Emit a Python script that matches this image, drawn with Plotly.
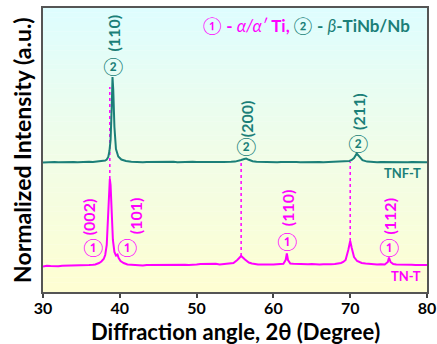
import plotly.graph_objects as go

# ---------------- data (intensity in arbitrary normalized units) ----------------
tn_x = [30.0, 30.5, 31.0, 31.5, 32.0, 32.5, 33.0, 33.5, 34.0, 34.5, 35.0, 35.5, 36.0, 36.5,
        36.8, 37.3, 37.6, 37.9, 38.1, 38.3, 38.45, 38.6, 38.7, 38.8, 38.95, 39.1, 39.3, 39.5,
        39.7, 39.85, 40.1, 40.5, 41.0, 41.5, 42.0, 42.5, 43.0, 43.5, 44.0, 44.5, 45.0, 45.5,
        46.0, 46.5, 47.0, 47.5, 48.0, 48.5, 49.0, 49.5, 50.0, 50.5, 51.0, 51.5, 52.0, 52.5,
        53.0, 53.5, 54.0, 54.4, 54.8, 55.3, 55.8, 56.3, 56.8, 57.2, 57.5, 58.0, 58.5, 59.0,
        59.5, 60.0, 60.5, 61.0, 61.3, 61.6, 61.75, 61.9, 62.2, 62.6, 63.0, 63.5, 64.0, 64.5,
        65.0, 65.5, 66.0, 66.5, 67.0, 67.5, 68.0, 68.5, 68.8, 69.1, 69.4, 69.75, 70.0, 70.2,
        70.5, 70.9, 71.5, 72.0, 72.5, 73.0, 73.5, 74.0, 74.5, 74.9, 75.05, 75.25, 75.6, 76.0,
        76.5, 77.0, 77.5, 78.0, 78.5, 79.0, 79.5, 80.0]
tn_y = [25.5, 26.2, 26.0, 25.6, 25.8, 26.3, 26.4, 25.9, 26.2, 26.6, 26.4, 27.0, 27.0, 27.3,
        27.6, 29.0, 30.5, 33.0, 37.0, 47.0, 67.0, 97.0, 113.0, 107.0, 77.0, 52.0, 40.0, 36.5,
        37.5, 34.0, 31.0, 29.0, 27.6, 27.2, 27.0, 26.8, 26.5, 26.9, 27.0, 26.6, 26.7, 27.1,
        27.0, 26.8, 27.2, 27.0, 27.5, 27.2, 27.0, 27.6, 27.5, 27.9, 28.0, 27.7, 28.0, 28.2,
        27.6, 28.0, 28.0, 28.3, 29.0, 32.0, 36.0, 32.5, 29.5, 28.6, 28.0, 27.6, 27.5, 27.8,
        27.5, 27.4, 27.6, 27.7, 28.2, 32.0, 38.5, 32.0, 28.5, 28.2, 28.0, 27.6, 27.5, 27.8,
        28.0, 27.6, 27.5, 27.8, 27.5, 27.7, 28.0, 28.4, 29.0, 30.0, 32.0, 42.0, 51.0, 44.0,
        35.0, 31.0, 29.0, 28.4, 28.0, 27.6, 27.5, 27.8, 27.5, 30.0, 34.5, 30.0, 28.0, 27.4,
        27.5, 27.0, 27.0, 27.3, 27.0, 26.8, 27.0, 27.0]

tnf_x = [30.0, 30.5, 31.0, 31.5, 32.0, 32.5, 33.0, 33.5, 34.0, 34.5, 35.0, 35.5, 36.0, 36.5,
         37.0, 37.4, 37.8, 38.1, 38.3, 38.5, 38.65, 38.8, 38.95, 39.05, 39.15, 39.3, 39.5,
         39.8, 40.2, 40.8, 41.5, 42.0, 42.5, 43.0, 43.5, 44.0, 44.5, 45.0, 45.5, 46.0, 46.5,
         47.0, 47.5, 48.0, 48.5, 49.0, 49.5, 50.0, 50.5, 51.0, 51.5, 52.0, 52.5, 53.0, 53.5,
         54.0, 54.5, 55.0, 55.4, 55.8, 56.2, 56.45, 56.8, 57.3, 57.8, 58.3, 59.0, 59.5, 60.0,
         60.5, 61.0, 61.5, 62.0, 62.5, 63.0, 63.5, 64.0, 64.5, 65.0, 65.5, 66.0, 66.5, 67.0,
         67.5, 68.0, 68.5, 69.0, 69.5, 69.9, 70.2, 70.5, 70.85, 71.2, 71.6, 72.2, 72.8, 73.5,
         74.0, 74.5, 75.0, 75.5, 76.0, 76.5, 77.0, 77.5, 78.0, 78.5, 79.0, 79.5, 80.0]
tnf_y = [129.6, 130.0, 129.7, 130.1, 129.8, 130.0, 130.2, 129.8, 130.0, 129.7, 130.1, 130.0,
         130.2, 130.0, 130.3, 130.5, 130.8, 131.5, 132.5, 135.0, 141.0, 152.0, 185.0, 215.0,
         202.0, 165.0, 143.0, 135.5, 132.5, 131.0, 130.3, 130.0, 130.2, 129.8, 130.0, 130.1,
         129.7, 130.0, 130.2, 129.9, 130.0, 130.3, 129.8, 130.0, 130.1, 129.8, 130.2, 130.0,
         129.9, 130.1, 130.0, 129.8, 130.2, 130.0, 130.1, 129.9, 130.2, 130.4, 131.0, 132.0,
         133.0, 133.5, 132.2, 130.8, 130.2, 130.0, 129.8, 130.1, 130.0, 129.7, 130.0, 130.2,
         129.9, 130.0, 130.1, 129.8, 130.0, 130.2, 129.9, 130.0, 130.1, 129.8, 130.0, 130.2,
         130.0, 130.2, 130.3, 130.5, 131.0, 132.0, 134.0, 138.5, 135.0, 131.8, 130.4, 130.0,
         129.8, 130.1, 130.0, 129.8, 130.2, 130.0, 129.9, 130.1, 129.8, 130.0, 130.1, 129.9,
         130.0, 129.8]

# dashed drop lines (x position, bottom intensity, top intensity)
drop_x = [38.7, 55.8, 70.0]
drop_y0 = [113.0, 36.0, 51.0]
drop_y1 = [205.0, 130.0, 130.0]

# peak labels
beta_x = [39.05, 56.45, 71.0]
beta_hkl = ["(110)", "(200)", "(211)"]
beta_circ_y = [226, 146, 149]
beta_lab_y = [259, 173, 181]

alpha_x = [36.5, 41.0, 61.8, 75.0]
alpha_lab_x = [35.9, 42.0, 61.8, 75.0]
alpha_hkl = ["(002)", "(101)", "(110)", "(112)"]
alpha_circ_y = [45, 45, 51, 45]
alpha_lab_y = [75, 76, 84, 76]

TEAL = "#1b7f78"
MAG = "#ff00ff"
FONT = "Lato"

fig = go.Figure()

# gradient background
c_top = (222, 253, 254)
c_mid = (240, 253, 232)
c_bot = (254, 254, 210)
N = 60
for i in range(N):
    t = i / (N - 1)
    if t < 0.5:
        a, b, u = c_top, c_mid, t / 0.5
    else:
        a, b, u = c_mid, c_bot, (t - 0.5) / 0.5
    col = tuple(int(round(a[k] + (b[k] - a[k]) * u)) for k in range(3))
    fig.add_shape(type="rect", xref="paper", yref="paper",
                  x0=0, x1=1, y0=1 - (i + 1) / N, y1=1 - i / N + 0.001,
                  fillcolor="rgb(%d,%d,%d)" % col, line_width=0, layer="below")

for xv, y0, y1 in zip(drop_x, drop_y0, drop_y1):
    fig.add_trace(go.Scatter(x=[xv, xv], y=[y0, y1], mode="lines",
                             line=dict(color=MAG, width=1.5, dash="3px,3px"),
                             hoverinfo="skip", showlegend=False))

fig.add_trace(go.Scatter(x=tnf_x, y=tnf_y, mode="lines",
                         line=dict(color=TEAL, width=2), showlegend=False))
fig.add_trace(go.Scatter(x=tn_x, y=tn_y, mode="lines",
                         line=dict(color=MAG, width=2), showlegend=False))

ann = []
for xv, cy, ly, h in zip(beta_x, beta_circ_y, beta_lab_y, beta_hkl):
    ann.append(dict(x=xv, y=cy, text="②", showarrow=False,
                    font=dict(color=TEAL, size=18, family=FONT)))
    ann.append(dict(x=xv, y=ly, text="<b>%s</b>" % h, textangle=-90, showarrow=False,
                    font=dict(color=TEAL, size=16, family=FONT)))
for xv, lx, cy, ly, h in zip(alpha_x, alpha_lab_x, alpha_circ_y, alpha_lab_y, alpha_hkl):
    ann.append(dict(x=xv, y=cy, text="①", showarrow=False,
                    font=dict(color=MAG, size=18, family=FONT)))
    ann.append(dict(x=lx, y=ly, text="<b>%s</b>" % h, textangle=-90, showarrow=False,
                    font=dict(color=MAG, size=16, family=FONT)))

ann.append(dict(xref="paper", yref="paper", x=0.962, y=0.94, xanchor="right", yanchor="middle",
                text=("<span style='color:%s'>① <b>- </b><i>α/α′</i><b> Ti, </b></span>"
                      "<span style='color:%s'>② <b>- </b><i>β</i><b>-TiNb/Nb</b></span>") % (MAG, TEAL),
                showarrow=False, font=dict(size=17, family=FONT)))
ann.append(dict(xref="paper", yref="paper", x=0.99, y=0.418, xanchor="right", yanchor="middle",
                text="<b>TNF-T</b>", showarrow=False,
                font=dict(color=TEAL, size=13, family=FONT)))
ann.append(dict(xref="paper", yref="paper", x=0.99, y=0.057, xanchor="right", yanchor="middle",
                text="<b>TN-T</b>", showarrow=False,
                font=dict(color=MAG, size=13, family=FONT)))
ann.append(dict(xref="paper", yref="paper", x=0.5, y=-0.14, xanchor="center", yanchor="middle",
                text="<b>Diffraction angle, 2θ (Degree)</b>", showarrow=False,
                font=dict(size=22, family=FONT, color="black")))
ann.append(dict(xref="paper", yref="paper", x=-0.055, y=0.5, xanchor="center", yanchor="middle",
                text="<b>Normalized Intensity (a.u.)</b>", textangle=-90, showarrow=False,
                font=dict(size=23, family=FONT, color="black")))

fig.update_layout(
    width=437, height=344,
    margin=dict(l=43, r=10, t=8, b=52),
    paper_bgcolor="white", plot_bgcolor="rgba(0,0,0,0)",
    annotations=ann,
    font=dict(family=FONT, color="black"),
    xaxis=dict(range=[30, 80], tickvals=[30, 40, 50, 60, 70, 80],
               ticktext=["<b>%d</b>" % v for v in [30, 40, 50, 60, 70, 80]],
               ticks="outside", ticklen=4, tickwidth=1.5, tickcolor="#444",
               ticklabelstandoff=-3,
               showline=True, linecolor="#555", linewidth=1.5, mirror=True,
               showgrid=False, zeroline=False, automargin=False,
               tickfont=dict(size=16, family=FONT, color="black")),
    yaxis=dict(range=[0, 284], showticklabels=False, ticks="",
               showline=True, linecolor="#555", linewidth=1.5, mirror=True,
               showgrid=False, zeroline=False, automargin=False),
)

fig.write_html("out.html", config={"displayModeBar": False},
               post_script="document.body.style.margin='0';")
